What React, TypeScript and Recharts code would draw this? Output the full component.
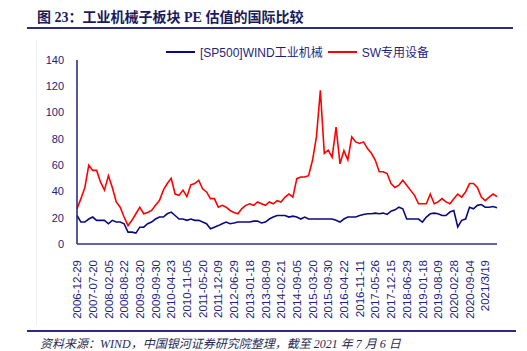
import { Line, LineChart, XAxis, YAxis } from "recharts";

// x-axis labels, one every 4 data points
const tickLabels = [
  "2006-12-29", "2007-07-20", "2008-02-05", "2008-08-22", "2009-03-20", "2009-09-30",
  "2010-04-23", "2010-11-05", "2011-05-20", "2011-12-09", "2012-06-29", "2013-01-18",
  "2013-08-09", "2014-02-21", "2014-09-05", "2015-03-20", "2015-09-30", "2016-04-22",
  "2016-11-11", "2017-05-26", "2017-12-15", "2018-06-29", "2019-01-18", "2019-08-09",
  "2020-02-28", "2020-09-04", "2021/3/19",
];

// [SP500]WIND工业机械 PE
const spValues = [
  21.7, 16.7, 16.7, 19, 20.5, 18, 18, 18, 15.4, 18, 16.7, 16.7, 15.4, 9, 9, 8.3,
  12.8, 12.8, 15.4, 16.7, 19, 20.5, 20.5, 23, 24.3, 21.7, 19, 19, 18, 19, 18, 18,
  16.7, 15.4, 11.6, 12.8, 14, 15.4, 16.7, 15.4, 16, 16.7, 16.7, 16.7, 16.7, 17.4, 17.4, 16,
  16.7, 19, 20.5, 21.7, 21.7, 21.7, 20.5, 21.2, 20.5, 19, 20.5, 19, 19, 19, 19, 19,
  19, 19, 18, 16.7, 19, 20.5, 20.5, 20.5, 21.7, 22.5, 23, 23, 23.5, 23, 23.5, 22.5,
  25, 26, 28, 26.8, 19, 19, 19, 19, 16.7, 20.5, 23, 23.5, 23, 21.7, 21.7, 24.3,
  25.5, 13, 18, 19, 28, 26.8, 29.4, 30, 28, 28, 28.5, 27.6,
];

// SW专用设备 PE
const swValues = [
  26.8, 34.5, 43, 60, 56, 56, 47, 41, 52, 43, 32, 28, 20.5, 14, 18, 23,
  28, 23, 24, 25.5, 29.4, 33, 41, 46, 50, 38, 37, 41, 36, 45, 46, 48.5,
  42, 39.6, 34.5, 34.5, 28, 29.4, 28, 25.5, 24, 23, 27, 29.4, 30.6, 29.4, 32, 30.6,
  29.4, 32, 30.6, 33, 32, 35.7, 38, 35.7, 49.7, 51, 51, 52, 63.7, 81.5, 117, 69,
  71.4, 66, 89, 61, 71, 64, 81.5, 77.7, 76.5, 77.7, 72.6, 69, 63.7, 55, 55, 53.6,
  46, 43, 44.7, 48.5, 44.7, 40.8, 37, 30.6, 30.6, 30.6, 38, 30.6, 32, 34.5, 32, 30.6,
  34.5, 38, 35.7, 39.6, 46, 46, 43, 35.7, 33, 35.7, 38, 36,
];

const yTicks = [0, 20, 40, 60, 80, 100, 120, 140];

const NAVY = "#1f1f7a";
const TEXT = "#1a237e";
const FONT = "'Liberation Sans', Arial, sans-serif";

const data = spValues.map((sp, i) => ({ i, sp, sw: swValues[i] }));
const xTicks = tickLabels.map((_, k) => k * 4);

function DateTick({ x, y, payload }: any) {
  const label = tickLabels[payload.value / 4] ?? "";
  return (
    <g transform={`translate(${x},${y + 8})`}>
      <text
        transform="rotate(-90)"
        textAnchor="end"
        dy="0.36em"
        fill={TEXT}
        fontSize={11.5}
        fontFamily={FONT}
      >
        {label}
      </text>
    </g>
  );
}

function LegendItem({ color, label }: { color: string; label: string }) {
  return (
    <span style={{ display: "flex", alignItems: "center", gap: 5 }}>
      <svg width="29" height="4" aria-hidden>
        <line x1="0" y1="2" x2="29" y2="2" stroke={color} strokeWidth="2" />
      </svg>
      {label}
    </span>
  );
}

export default function App() {
  return (
    <div style={{ position: "relative", width: 527, height: 351, background: "#fff", overflow: "hidden" }}>
      <style>{`body{margin:0}`}</style>
      <div
        style={{
          position: "absolute",
          left: 37,
          top: 6,
          fontSize: 14,
          fontWeight: "bold",
          color: "#1a1a5e",
          fontFamily: "'Liberation Serif', 'Noto Sans CJK SC', serif",
          whiteSpace: "nowrap",
        }}
      >
        图 23：工业机械子板块 PE 估值的国际比较
      </div>
      <div style={{ position: "absolute", left: 27, top: 27, width: 486, height: 2, background: "#2b2b80" }} />
      <div style={{ position: "absolute", left: 36, top: 40, width: 1, height: 285, background: "#f0f0f0" }} />
      <div
        style={{
          position: "absolute",
          left: 166,
          top: 43,
          display: "flex",
          gap: 5,
          fontSize: 12,
          color: NAVY,
          fontFamily: "'Liberation Sans', 'Noto Sans CJK SC', sans-serif",
          whiteSpace: "nowrap",
        }}
      >
        <LegendItem color="#0a0a80" label="[SP500]WIND工业机械" />
        <LegendItem color="#ff0000" label="SW专用设备" />
      </div>
      <div style={{ position: "absolute", left: 0, top: 0 }}>
        <LineChart width={527} height={320} data={data} margin={{ top: 60, right: 30, bottom: 6, left: 0 }}>
          <XAxis
            dataKey="i"
            type="number"
            domain={[0, spValues.length - 1]}
            ticks={xTicks}
            interval={0}
            tick={<DateTick />}
            tickLine={false}
            height={70}
            stroke="#2e3192"
            strokeWidth={1.5}
          />
          <YAxis
            domain={[0, 140]}
            ticks={yTicks}
            width={77}
            tickLine={false}
            tickSize={0}
            tickMargin={13}
            stroke="#1f1f7a"
            strokeWidth={1.5}
            tick={{ fill: TEXT, fontSize: 11, fontFamily: FONT }}
          />
          <Line
            type="linear"
            dataKey="sw"
            stroke="#ff0000"
            strokeWidth={1.6}
            dot={false}
            isAnimationActive={false}
          />
          <Line
            type="linear"
            dataKey="sp"
            stroke="#0a0a80"
            strokeWidth={1.6}
            dot={false}
            isAnimationActive={false}
          />
        </LineChart>
      </div>
      <div style={{ position: "absolute", left: 27, top: 330, width: 489, height: 2, background: "#2b2b80" }} />
      <div
        style={{
          position: "absolute",
          left: 40,
          top: 338,
          fontSize: 12,
          lineHeight: "12px",
          fontStyle: "italic",
          color: "#2a2a55",
          fontFamily: "'Liberation Serif', 'Noto Sans CJK SC', serif",
          whiteSpace: "nowrap",
        }}
      >
        资料来源：WIND，中国银河证券研究院整理，截至 2021 年 7 月 6 日
      </div>
    </div>
  );
}
